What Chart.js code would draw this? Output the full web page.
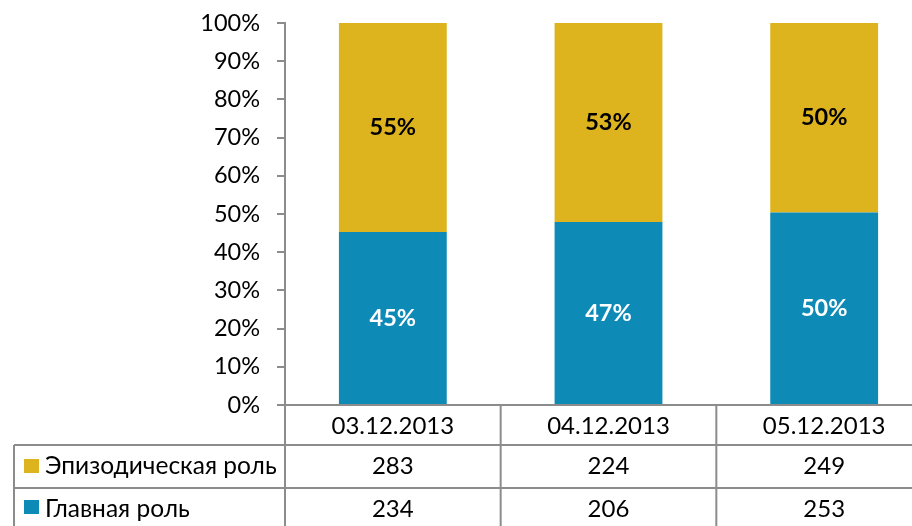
<!DOCTYPE html>
<html>
<head>
<meta charset="utf-8">
<script src="https://cdn.jsdelivr.net/npm/chart.js@4.4.1/dist/chart.umd.min.js"></script>
<style>
  html, body { margin: 0; padding: 0; overflow: hidden; background: #fff; }
  canvas { display: block; }
</style>
</head>
<body>
<canvas id="chart" width="932" height="526"></canvas>
<script>
const dates = ['03.12.2013', '04.12.2013', '05.12.2013'];
const mainRole = [234, 206, 253];
const episodeRole = [283, 224, 249];
const mainLabels = ['45%', '47%', '50%'];
const episodeLabels = ['55%', '53%', '50%'];
const seriesNames = ['Эпизодическая роль', 'Главная роль'];

const BLUE = '#0E8AB7';
const YELLOW = '#DEB41E';
const GRID = '#8C8C8C';
const FONT = 'Lato, "Open Sans", sans-serif';

const totals = mainRole.map((v, i) => v + episodeRole[i]);
const mainPct = mainRole.map((v, i) => v / totals[i] * 100);
const episodePct = episodeRole.map((v, i) => v / totals[i] * 100);

// etiquetas dentro de las barras + tabla de datos
const tablePlugin = {
    id: 'tablePlugin',
    afterDatasetsDraw(chart) {
        const ctx = chart.ctx;
        const x = chart.scales.x;
        const area = chart.chartArea;

        // etiquetas de porcentaje
        ctx.save();
        ctx.font = 'bold 23.5px ' + FONT;
        ctx.textAlign = 'center';
        ctx.textBaseline = 'middle';
        chart.data.datasets.forEach((ds, di) => {
            const meta = chart.getDatasetMeta(di);
            meta.data.forEach((bar, i) => {
                const mid = (bar.y + bar.base) / 2;
                ctx.fillStyle = di === 0 ? '#ffffff' : '#000000';
                ctx.fillText(ds.labelsText[i], bar.x, mid);
            });
        });
        ctx.restore();

        // tabla
        const rowTop = area.bottom;
        const rowH = [40, 43, 43];
        const y1 = rowTop + rowH[0];
        const y2 = y1 + rowH[1];
        const y3 = y2 + rowH[2];
        const leftX = 14;
        const right = chart.width;
        const bounds = [area.left];
        dates.forEach((d, i) => {
            const c = x.getPixelForValue(i);
            bounds.push(c + (c - bounds[i]));
        });

        ctx.save();
        ctx.strokeStyle = GRID;
        ctx.lineWidth = 2;
        ctx.beginPath();
        ctx.moveTo(leftX, y1); ctx.lineTo(right, y1);
        ctx.moveTo(leftX, y2); ctx.lineTo(right, y2);
        ctx.moveTo(leftX, y1); ctx.lineTo(leftX, y3);
        bounds.forEach(b => {
            ctx.moveTo(b, rowTop); ctx.lineTo(b, y3);
        });
        ctx.stroke();

        ctx.fillStyle = '#000';
        ctx.font = '24px ' + FONT;
        ctx.textAlign = 'center';
        ctx.textBaseline = 'middle';
        dates.forEach((d, i) => {
            const c = x.getPixelForValue(i);
            ctx.fillText(d, c, rowTop + rowH[0] / 2 + 1);
            ctx.fillText(String(episodeRole[i]), c, y1 + rowH[1] / 2);
            ctx.fillText(String(mainRole[i]), c, y2 + rowH[2] / 2);
        });

        // leyenda en la tabla
        ctx.textAlign = 'left';
        ctx.fillStyle = YELLOW;
        ctx.fillRect(24, y1 + 14, 15, 14);
        ctx.fillStyle = BLUE;
        ctx.fillRect(24, y2 + 12, 15, 14);
        ctx.fillStyle = '#000';
        ctx.font = '24.5px ' + FONT;
        ctx.fillText(seriesNames[0], 45, y1 + rowH[1] / 2);
        ctx.fillText(seriesNames[1], 45, y2 + rowH[2] / 2);
        ctx.restore();
    }
};

const ctx = document.getElementById('chart').getContext('2d');
const chart = new Chart(ctx, {
    type: 'bar',
    data: {
        labels: dates,
        datasets: [{
            label: seriesNames[1],
            data: mainPct,
            labelsText: mainLabels,
            backgroundColor: BLUE,
            borderWidth: 0
        }, {
            label: seriesNames[0],
            data: episodePct,
            labelsText: episodeLabels,
            backgroundColor: YELLOW,
            borderWidth: 0
        }]
    },
    options: {
        responsive: false,
        animation: false,
        devicePixelRatio: 1,
        layout: {
            padding: { top: 23, left: 0, right: 0, bottom: 0 }
        },
        plugins: {
            legend: { display: false },
            tooltip: { enabled: false }
        },
        datasets: {
            bar: { categoryPercentage: 1, barPercentage: 0.5 }
        },
        scales: {
            x: {
                stacked: true,
                ticks: { display: false },
                grid: { display: false, drawTicks: false },
                border: { display: true, color: GRID, width: 2 },
                afterFit: (s) => { s.height = 121; }
            },
            y: {
                stacked: true,
                min: 0,
                max: 100,
                ticks: {
                    stepSize: 10,
                    padding: 17,
                    color: '#000',
                    font: { family: FONT, size: 23.5 },
                    callback: (v) => v + '%'
                },
                grid: {
                    display: true,
                    drawOnChartArea: false,
                    drawTicks: true,
                    tickLength: 8,
                    color: GRID,
                    lineWidth: 2
                },
                border: { display: true, color: GRID, width: 2 },
                afterFit: (s) => {
                    s.width = 285;
                    s.paddingTop = 0;
                    s.paddingBottom = 0;
                }
            }
        }
    },
    plugins: [tablePlugin]
});
</script>
</body>
</html>
